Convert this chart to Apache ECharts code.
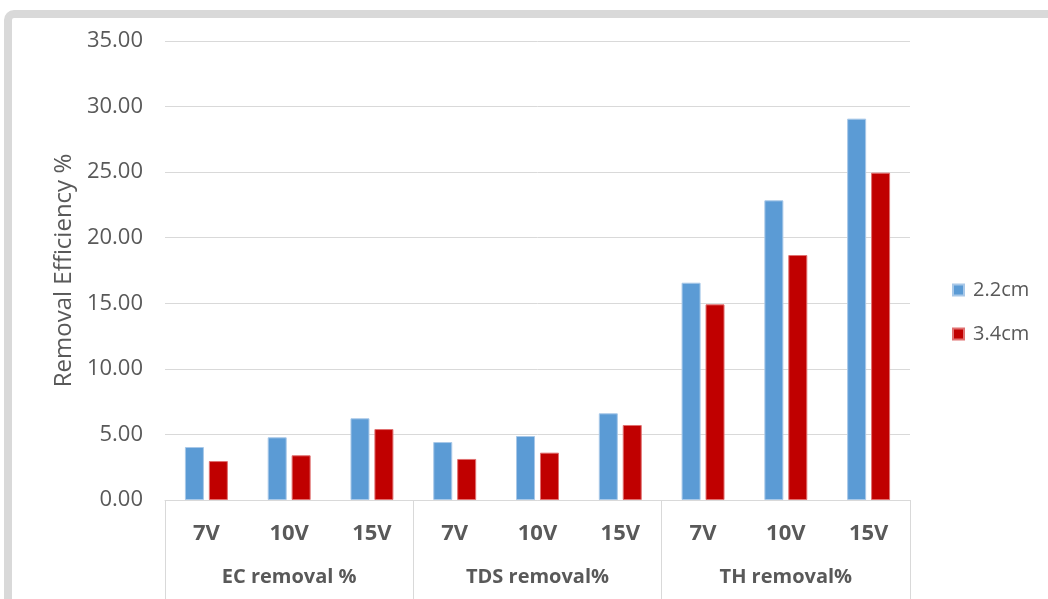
<!DOCTYPE html>
<html>
<head>
<meta charset="utf-8">
<title>Removal Efficiency</title>
<script src="https://cdn.jsdelivr.net/npm/echarts@6/dist/echarts.min.js"></script>
<style>
  html, body { margin: 0; padding: 0; background: #ffffff; }
  #chart { width: 1048px; height: 599px; }
</style>
</head>
<body>
<div id="chart"></div>
<script>
// Voltage levels, repeated for each measured parameter
const voltages = ['7V', '10V', '15V', '7V', '10V', '15V', '7V', '10V', '15V'];
const groups = ['EC removal %', 'TDS removal%', 'TH removal%'];
const seriesNames = ['2.2cm', '3.4cm'];
// Removal efficiency (%) per electrode spacing
const spacing22 = [4.04, 4.78, 6.23, 4.42, 4.88, 6.61, 16.57, 22.85, 29.08];
const spacing34 = [2.97, 3.41, 5.41, 3.13, 3.61, 5.72, 14.92, 18.68, 24.96];
const yTicks = { min: 0, max: 35, interval: 5 };

const textGray = '#595959';
const lineGray = '#d9d9d9';
const font = 'Open Sans';

const chart = echarts.init(document.getElementById('chart'), null, { renderer: 'canvas' });

chart.setOption({
  animation: false,
  backgroundColor: '#ffffff',
  graphic: [{
    type: 'rect',
    z: -10,
    shape: { x: 8, y: 14, width: 1300, height: 900, r: 6 },
    style: { fill: 'none', stroke: lineGray, lineWidth: 8 }
  }],
  grid: { left: 165, right: 138, top: 41, bottom: 99, containLabel: false },
  legend: {
    orient: 'vertical',
    left: 952,
    top: 280,
    itemWidth: 11,
    itemHeight: 11,
    itemGap: 24,
    icon: 'rect',
    padding: 0,
    data: seriesNames,
    textStyle: { color: textGray, fontSize: 20, fontFamily: font, padding: [0, 0, 0, 4] }
  },
  xAxis: [
    {
      type: 'category',
      data: voltages,
      position: 'bottom',
      axisLine: { show: true, lineStyle: { color: lineGray, width: 1 } },
      axisTick: { show: false },
      axisLabel: {
        interval: 0,
        margin: 23,
        color: textGray,
        fontSize: 22,
        fontWeight: 'bold',
        fontFamily: font
      }
    },
    {
      type: 'category',
      data: groups,
      position: 'bottom',
      axisLine: { show: false },
      axisTick: { show: true, interval: 0, length: 100, lineStyle: { color: lineGray, width: 1 } },
      axisLabel: {
        interval: 0,
        margin: 67,
        color: textGray,
        fontSize: 20,
        fontWeight: 'bold',
        fontFamily: font
      }
    }
  ],
  yAxis: {
    type: 'value',
    min: yTicks.min,
    max: yTicks.max,
    interval: yTicks.interval,
    name: 'Removal Efficiency %',
    nameLocation: 'middle',
    nameGap: 88,
    nameTextStyle: { color: textGray, fontSize: 24, fontFamily: font },
    axisLine: { show: false },
    axisTick: { show: false },
    axisLabel: {
      margin: 22,
      color: textGray,
      fontSize: 22,
      fontFamily: font,
      formatter: v => v.toFixed(2)
    },
    splitLine: { lineStyle: { color: lineGray, width: 1 } }
  },
  series: [
    {
      name: seriesNames[0],
      type: 'bar',
      data: spacing22,
      barWidth: 19,
      barGap: '26%',
      itemStyle: { color: '#5b9bd5', borderColor: '#a8c8e8', borderWidth: 1 }
    },
    {
      name: seriesNames[1],
      type: 'bar',
      data: spacing34,
      barWidth: 19,
      barGap: '26%',
      itemStyle: { color: '#c00000', borderColor: '#e07070', borderWidth: 1 }
    }
  ]
});
</script>
</body>
</html>
